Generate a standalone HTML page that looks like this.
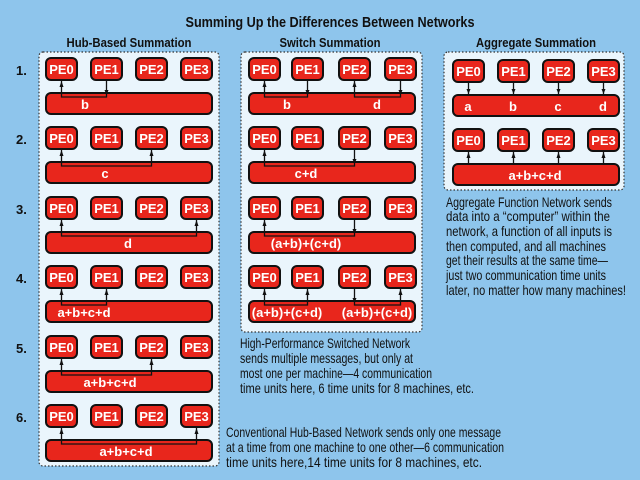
<!DOCTYPE html>
<html><head><meta charset="utf-8"><style>
html,body{margin:0;padding:0;background:#8ec5ec;}
svg{display:block}
.pe rect{fill:#e8261c;stroke:#111;stroke-width:2}
.pe text,.lb{fill:#fff;font:bold 13px "Liberation Sans Narrow","Liberation Sans",sans-serif;text-anchor:middle}
.bar{fill:#e8261c;stroke:#111;stroke-width:2}
.cn{fill:none;stroke:#111;stroke-width:1.3}
.ar{fill:#111}
.pn{fill:#eaf5fc;stroke:#333;stroke-width:1.2;stroke-dasharray:1.5 2}
.hd{font:bold 13px "Liberation Sans Narrow","Liberation Sans",sans-serif;fill:#111;text-anchor:middle}
.num{font:bold 13px "Liberation Sans",sans-serif;fill:#111}
.tx{font:14px "Liberation Sans Narrow","Liberation Sans",sans-serif;fill:#111}
</style></head><body>
<svg width="640" height="480" viewBox="0 0 640 480" xmlns="http://www.w3.org/2000/svg">
<rect width="640" height="480" fill="#8ec5ec"/>
<text x="330" y="27" class="hd" style="font-size:15px" textLength="289" lengthAdjust="spacingAndGlyphs">Summing Up the Differences Between Networks</text>
<text x="129" y="47" class="hd" textLength="125" lengthAdjust="spacingAndGlyphs">Hub-Based Summation</text>
<text x="330" y="47" class="hd" textLength="101" lengthAdjust="spacingAndGlyphs">Switch Summation</text>
<text x="536" y="47" class="hd" textLength="120" lengthAdjust="spacingAndGlyphs">Aggregate Summation</text>

<rect class="pn" x="39" y="52" width="180" height="414" rx="4"/>
<rect class="pn" x="241" y="52" width="181" height="280" rx="4"/>
<rect class="pn" x="444" y="52" width="180" height="138" rx="4"/>

<text class="num" x="16" y="75">1.</text>
<text class="num" x="16" y="144">2.</text>
<text class="num" x="16" y="214">3.</text>
<text class="num" x="16" y="283">4.</text>
<text class="num" x="16" y="353">5.</text>
<text class="num" x="16" y="422">6.</text>

<!-- HUB -->
<g class="pe">
<rect x="46" y="58" width="31" height="22" rx="5"/><text x="61.5" y="74">PE0</text>
<rect x="91" y="58" width="31" height="22" rx="5"/><text x="106.5" y="74">PE1</text>
<rect x="136" y="58" width="31" height="22" rx="5"/><text x="151.5" y="74">PE2</text>
<rect x="181" y="58" width="31" height="22" rx="5"/><text x="196.5" y="74">PE3</text>
<rect x="46" y="127" width="31" height="22" rx="5"/><text x="61.5" y="143">PE0</text>
<rect x="91" y="127" width="31" height="22" rx="5"/><text x="106.5" y="143">PE1</text>
<rect x="136" y="127" width="31" height="22" rx="5"/><text x="151.5" y="143">PE2</text>
<rect x="181" y="127" width="31" height="22" rx="5"/><text x="196.5" y="143">PE3</text>
<rect x="46" y="197" width="31" height="22" rx="5"/><text x="61.5" y="213">PE0</text>
<rect x="91" y="197" width="31" height="22" rx="5"/><text x="106.5" y="213">PE1</text>
<rect x="136" y="197" width="31" height="22" rx="5"/><text x="151.5" y="213">PE2</text>
<rect x="181" y="197" width="31" height="22" rx="5"/><text x="196.5" y="213">PE3</text>
<rect x="46" y="266" width="31" height="22" rx="5"/><text x="61.5" y="282">PE0</text>
<rect x="91" y="266" width="31" height="22" rx="5"/><text x="106.5" y="282">PE1</text>
<rect x="136" y="266" width="31" height="22" rx="5"/><text x="151.5" y="282">PE2</text>
<rect x="181" y="266" width="31" height="22" rx="5"/><text x="196.5" y="282">PE3</text>
<rect x="46" y="336" width="31" height="22" rx="5"/><text x="61.5" y="352">PE0</text>
<rect x="91" y="336" width="31" height="22" rx="5"/><text x="106.5" y="352">PE1</text>
<rect x="136" y="336" width="31" height="22" rx="5"/><text x="151.5" y="352">PE2</text>
<rect x="181" y="336" width="31" height="22" rx="5"/><text x="196.5" y="352">PE3</text>
<rect x="46" y="405" width="31" height="22" rx="5"/><text x="61.5" y="421">PE0</text>
<rect x="91" y="405" width="31" height="22" rx="5"/><text x="106.5" y="421">PE1</text>
<rect x="136" y="405" width="31" height="22" rx="5"/><text x="151.5" y="421">PE2</text>
<rect x="181" y="405" width="31" height="22" rx="5"/><text x="196.5" y="421">PE3</text>
</g>
<rect class="bar" x="46" y="93" width="166" height="21" rx="5"/>
<rect class="bar" x="46" y="162" width="166" height="21" rx="5"/>
<rect class="bar" x="46" y="232" width="166" height="21" rx="5"/>
<rect class="bar" x="46" y="301" width="166" height="21" rx="5"/>
<rect class="bar" x="46" y="371" width="166" height="21" rx="5"/>
<rect class="bar" x="46" y="440" width="166" height="21" rx="5"/>
<path class="cn" d="M61.5,81V97H106.5V81 M61.5,150V166H151.5V150 M61.5,220V236H196.5V220 M61.5,289V305H106.5V289 M61.5,359V375H151.5V359 M61.5,428V444H196.5V428"/>
<g class="ar">
<polygon points="59.5,87 63.5,87 61.5,81"/><polygon points="104.5,90 108.5,90 106.5,95"/>
<polygon points="59.5,156 63.5,156 61.5,150"/><polygon points="149.5,156 153.5,156 151.5,150"/>
<polygon points="59.5,226 63.5,226 61.5,220"/><polygon points="194.5,226 198.5,226 196.5,220"/>
<polygon points="59.5,295 63.5,295 61.5,289"/><polygon points="104.5,295 108.5,295 106.5,289"/>
<polygon points="59.5,365 63.5,365 61.5,359"/><polygon points="149.5,365 153.5,365 151.5,359"/>
<polygon points="59.5,434 63.5,434 61.5,428"/><polygon points="194.5,434 198.5,434 196.5,428"/>
</g>
<text class="lb" x="85" y="109">b</text>
<text class="lb" x="105" y="178">c</text>
<text class="lb" x="128" y="248">d</text>
<text class="lb" x="84" y="317">a+b+c+d</text>
<text class="lb" x="110" y="387">a+b+c+d</text>
<text class="lb" x="126" y="456">a+b+c+d</text>

<!-- SWITCH -->
<g class="pe">
<rect x="249" y="58" width="31" height="22" rx="5"/><text x="264.5" y="74">PE0</text>
<rect x="292" y="58" width="31" height="22" rx="5"/><text x="307.5" y="74">PE1</text>
<rect x="339" y="58" width="31" height="22" rx="5"/><text x="354.5" y="74">PE2</text>
<rect x="385" y="58" width="31" height="22" rx="5"/><text x="400.5" y="74">PE3</text>
<rect x="249" y="127" width="31" height="22" rx="5"/><text x="264.5" y="143">PE0</text>
<rect x="292" y="127" width="31" height="22" rx="5"/><text x="307.5" y="143">PE1</text>
<rect x="339" y="127" width="31" height="22" rx="5"/><text x="354.5" y="143">PE2</text>
<rect x="385" y="127" width="31" height="22" rx="5"/><text x="400.5" y="143">PE3</text>
<rect x="249" y="197" width="31" height="22" rx="5"/><text x="264.5" y="213">PE0</text>
<rect x="292" y="197" width="31" height="22" rx="5"/><text x="307.5" y="213">PE1</text>
<rect x="339" y="197" width="31" height="22" rx="5"/><text x="354.5" y="213">PE2</text>
<rect x="385" y="197" width="31" height="22" rx="5"/><text x="400.5" y="213">PE3</text>
<rect x="249" y="266" width="31" height="22" rx="5"/><text x="264.5" y="282">PE0</text>
<rect x="292" y="266" width="31" height="22" rx="5"/><text x="307.5" y="282">PE1</text>
<rect x="339" y="266" width="31" height="22" rx="5"/><text x="354.5" y="282">PE2</text>
<rect x="385" y="266" width="31" height="22" rx="5"/><text x="400.5" y="282">PE3</text>
</g>
<rect class="bar" x="249" y="93" width="166" height="21" rx="5"/>
<rect class="bar" x="249" y="162" width="166" height="21" rx="5"/>
<rect class="bar" x="249" y="232" width="166" height="21" rx="5"/>
<rect class="bar" x="249" y="301" width="166" height="21" rx="5"/>
<path class="cn" d="M264.5,81V97H307.5V81 M354.5,81V97H400.5V81 M264.5,150V166H354.5V150 M264.5,220V236H354.5V220 M264.5,289V305H307.5V289 M354.5,289V305H400.5V289"/>
<g class="ar">
<polygon points="262.5,87 266.5,87 264.5,81"/><polygon points="305.5,90 309.5,90 307.5,95"/>
<polygon points="352.5,87 356.5,87 354.5,81"/><polygon points="398.5,90 402.5,90 400.5,95"/>
<polygon points="262.5,156 266.5,156 264.5,150"/><polygon points="352.5,159 356.5,159 354.5,164"/>
<polygon points="262.5,226 266.5,226 264.5,220"/><polygon points="352.5,229 356.5,229 354.5,234"/>
<polygon points="262.5,295 266.5,295 264.5,289"/><polygon points="305.5,295 309.5,295 307.5,289"/>
<polygon points="352.5,298 356.5,298 354.5,303"/><polygon points="398.5,295 402.5,295 400.5,289"/>
</g>
<text class="lb" x="287" y="109">b</text>
<text class="lb" x="377" y="109">d</text>
<text class="lb" x="306" y="178">c+d</text>
<text class="lb" x="306" y="248">(a+b)+(c+d)</text>
<text class="lb" x="287" y="317">(a+b)+(c+d)</text>
<text class="lb" x="377" y="317">(a+b)+(c+d)</text>

<!-- AGGREGATE -->
<g class="pe">
<rect x="453" y="60" width="31" height="22" rx="5"/><text x="468.5" y="76">PE0</text>
<rect x="498" y="60" width="31" height="22" rx="5"/><text x="513.5" y="76">PE1</text>
<rect x="543" y="60" width="31" height="22" rx="5"/><text x="558.5" y="76">PE2</text>
<rect x="588" y="60" width="31" height="22" rx="5"/><text x="603.5" y="76">PE3</text>
<rect x="453" y="129" width="31" height="22" rx="5"/><text x="468.5" y="145">PE0</text>
<rect x="498" y="129" width="31" height="22" rx="5"/><text x="513.5" y="145">PE1</text>
<rect x="543" y="129" width="31" height="22" rx="5"/><text x="558.5" y="145">PE2</text>
<rect x="588" y="129" width="31" height="22" rx="5"/><text x="603.5" y="145">PE3</text>
</g>
<rect class="bar" x="453" y="95" width="166" height="21" rx="5"/>
<rect class="bar" x="453" y="164" width="166" height="21" rx="5"/>
<path class="cn" d="M468.5,83V95 M513.5,83V95 M558.5,83V95 M603.5,83V95 M468.5,152V164 M513.5,152V164 M558.5,152V164 M603.5,152V164"/>
<g class="ar">
<polygon points="466.5,89 470.5,89 468.5,94"/><polygon points="511.5,89 515.5,89 513.5,94"/>
<polygon points="556.5,89 560.5,89 558.5,94"/><polygon points="601.5,89 605.5,89 603.5,94"/>
<polygon points="466.5,158 470.5,158 468.5,152"/><polygon points="511.5,158 515.5,158 513.5,152"/>
<polygon points="556.5,158 560.5,158 558.5,152"/><polygon points="601.5,158 605.5,158 603.5,152"/>
</g>
<text class="lb" x="468" y="111">a</text>
<text class="lb" x="513" y="111">b</text>
<text class="lb" x="558" y="111">c</text>
<text class="lb" x="603" y="111">d</text>
<text class="lb" x="535" y="180">a+b+c+d</text>

<!-- paragraphs -->
<g class="tx">
<text x="446" y="207" textLength="166" lengthAdjust="spacingAndGlyphs">Aggregate Function Network sends</text>
<text x="446" y="221" textLength="164" lengthAdjust="spacingAndGlyphs">data into a “computer” within the</text>
<text x="446" y="236" textLength="166" lengthAdjust="spacingAndGlyphs">network, a function of all inputs is</text>
<text x="446" y="251" textLength="160" lengthAdjust="spacingAndGlyphs">then computed, and all machines</text>
<text x="446" y="265" textLength="162" lengthAdjust="spacingAndGlyphs">get their results at the same time—</text>
<text x="446" y="280" textLength="160" lengthAdjust="spacingAndGlyphs">just two communication time units</text>
<text x="446" y="295" textLength="180" lengthAdjust="spacingAndGlyphs">later, no matter how many machines!</text>

<text x="240" y="348" textLength="170" lengthAdjust="spacingAndGlyphs">High-Performance Switched Network</text>
<text x="240" y="363" textLength="173" lengthAdjust="spacingAndGlyphs">sends multiple messages, but only at</text>
<text x="240" y="378" textLength="192" lengthAdjust="spacingAndGlyphs">most one per machine—4 communication</text>
<text x="240" y="393" textLength="234" lengthAdjust="spacingAndGlyphs">time units here, 6 time units for 8 machines, etc.</text>

<text x="226" y="437" textLength="275" lengthAdjust="spacingAndGlyphs">Conventional Hub-Based Network sends only one message</text>
<text x="226" y="452" textLength="278" lengthAdjust="spacingAndGlyphs">at a time from one machine to one other—6 communication</text>
<text x="226" y="467" textLength="256" lengthAdjust="spacingAndGlyphs">time units here,14 time units for 8 machines, etc.</text>
</g>
</svg>
</body></html>
